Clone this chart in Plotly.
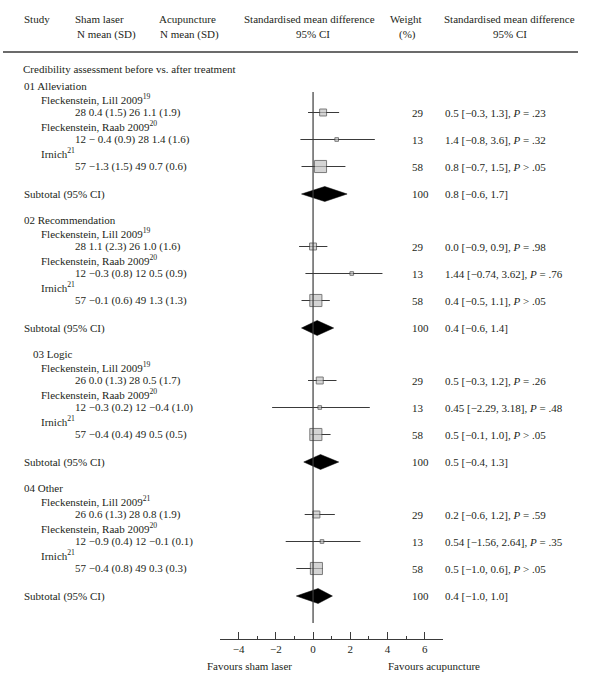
import plotly.graph_objects as go

# ---------------- data ----------------
groups = ["01 Alleviation", "02 Recommendation", "03 Logic", "04 Other"]
group_indent = [0, 0, 1, 0]
studies = ["Fleckenstein, Lill 2009", "Fleckenstein, Raab 2009", "Irnich"]
refs = [["19", "20", "21"], ["19", "20", "21"], ["19", "20", "21"], ["21", "20", "21"]]
arm_text = [
    ["28 0.4 (1.5) 26 1.1 (1.9)", "12 \u2212 0.4 (0.9) 28 1.4 (1.6)", "57 \u22121.3 (1.5) 49 0.7 (0.6)"],
    ["28 1.1 (2.3) 26 1.0 (1.6)", "12 \u22120.3 (0.8) 12 0.5 (0.9)", "57 \u22120.1 (0.6) 49 1.3 (1.3)"],
    ["26 0.0 (1.3) 28 0.5 (1.7)", "12 \u22120.3 (0.2) 12 \u22120.4 (1.0)", "57 \u22120.4 (0.4) 49 0.5 (0.5)"],
    ["26 0.6 (1.3) 28 0.8 (1.9)", "12 \u22120.9 (0.4) 12 \u22120.1 (0.1)", "57 \u22120.4 (0.8) 49 0.3 (0.3)"],
]
weights = [29, 13, 58]
smd_text = [
    ["0.5 [\u22120.3, 1.3], <i>P</i> = .23", "1.4 [\u22120.8, 3.6], <i>P</i> = .32", "0.8 [\u22120.7, 1.5], <i>P</i> > .05"],
    ["0.0 [\u22120.9, 0.9], <i>P</i> = .98", "1.44 [\u22120.74, 3.62], <i>P</i> = .76", "0.4 [\u22120.5, 1.1], <i>P</i> > .05"],
    ["0.5 [\u22120.3, 1.2], <i>P</i> = .26", "0.45 [\u22122.29, 3.18], <i>P</i> = .48", "0.5 [\u22120.1, 1.0], <i>P</i> > .05"],
    ["0.2 [\u22120.6, 1.2], <i>P</i> = .59", "0.54 [\u22121.56, 2.64], <i>P</i> = .35", "0.5 [\u22121.0, 0.6], <i>P</i> > .05"],
]
sub_text = ["0.8 [\u22120.6, 1.7]", "0.4 [\u22120.6, 1.4]", "0.5 [\u22120.4, 1.3]", "0.4 [\u22121.0, 1.0]"]
sub_weight = 100

# plotted estimates as drawn
est = [[0.54, 1.27, 0.40], [0.00, 2.08, 0.15], [0.36, 0.36, 0.15], [0.18, 0.48, 0.18]]
lo = [[-0.27, -0.68, -0.62], [-0.75, -0.41, -0.62], [-0.27, -2.20, -0.14], [-0.45, -1.47, -0.90]]
hi = [[1.40, 3.32, 1.74], [0.77, 3.73, 0.90], [1.26, 3.05, 0.94], [1.17, 2.55, 0.50]]
sub_est = [0.63, 0.22, 0.40, 0.27]
sub_lo = [-0.62, -0.62, -0.50, -0.90]
sub_hi = [1.83, 1.11, 1.38, 1.04]

axis_ticks = [-4, -2, 0, 2, 4, 6]

# ---------------- layout constants ----------------
W, H = 600, 692
FONT = "Liberation Serif"
FS = 11
TXT = "#231f20"
LINE = "#3a3a3a"

def px(x):
    return x / W

fig = go.Figure()
ann = []

def text(x, y, s, anchor="left", size=FS):
    ann.append(dict(x=px(x), y=y, xref="paper", yref="y", text=s, showarrow=False,
                    xanchor=anchor, yanchor="middle", font=dict(family=FONT, size=size, color=TXT)))

# header
text(22, 19, "Study")
text(73, 19, "Sham laser")
text(75, 34, "N mean (SD)")
text(157, 19, "Acupuncture")
text(158, 34, "N mean (SD)")
text(309, 19, "Standardised mean difference", "center")
text(313, 34, "95% CI", "center")
text(406, 19, "Weight", "center")
text(407, 34, "(%)", "center")
text(509, 19, "Standardised mean difference", "center")
text(510, 34, "95% CI", "center")
text(21, 69, "Credibility assessment before vs. after treatment")

shapes = [dict(type="line", xref="paper", yref="y", x0=px(3), x1=px(578), y0=52, y1=52,
               line=dict(color=LINE, width=1.3))]

g_y = 86
ci_x, ci_y = [], []
mk_x, mk_y, mk_s = [], [], []
diamonds = []
for gi, g in enumerate(groups):
    text(22 + 9 * group_indent[gi], g_y, g)
    rows = []
    for si, s in enumerate(studies):
        dy = g_y + 26.5 + 27 * si
        rows.append(dy)
        text(39, dy - 13.5, f"{s}<sup>{refs[gi][si]}</sup>")
        text(73, dy, arm_text[gi][si])
        text(410, dy, str(weights[si]))
        text(443, dy, smd_text[gi][si])
        ci_x += [lo[gi][si], hi[gi][si], None]
        ci_y += [dy, dy, None]
        mk_x.append(est[gi][si])
        mk_y.append(dy)
        mk_s.append(0.47 * weights[si] ** 0.8)
    sy = rows[-1] + 27.5
    text(22, sy, "Subtotal (95% CI)")
    text(410, sy, str(sub_weight))
    text(443, sy, sub_text[gi])
    diamonds.append((sub_lo[gi], sub_est[gi], sub_hi[gi], sy))
    g_y = sy + 26

# zero line
shapes.append(dict(type="line", xref="x", yref="y", x0=0, x1=0, y0=92, y1=623,
                   line=dict(color=LINE, width=1.2)))

fig.add_trace(go.Scatter(x=ci_x, y=ci_y, mode="lines", line=dict(color=LINE, width=1),
                         hoverinfo="skip", cliponaxis=False))
fig.add_trace(go.Scatter(x=mk_x, y=mk_y, mode="markers", cliponaxis=False, hoverinfo="skip",
                         marker=dict(symbol="square", size=mk_s, color="#c2c2c2",
                                     line=dict(color="#444444", width=1))))
for (a, m, b, y) in diamonds:
    fig.add_trace(go.Scatter(x=[a, m, b, m, a], y=[y, y - 7.5, y, y + 7.5, y], mode="lines",
                             fill="toself", fillcolor="#000000", line=dict(color="#000000", width=0.5),
                             hoverinfo="skip", cliponaxis=False))

text(205, 666, "Favours sham laser")
text(386, 666, "Favours acupuncture")

fig.update_layout(
    width=W, height=H, margin=dict(l=0, r=0, t=0, b=0),
    paper_bgcolor="white", plot_bgcolor="white", showlegend=False,
    annotations=ann, shapes=shapes, hovermode=False,
    xaxis=dict(domain=[220 / W, 443.33 / W], range=[-5.001, 7.001], anchor="free",
               position=1 - 639 / H, showline=True, linecolor=LINE, linewidth=1.2,
               ticks="inside", ticklen=7, tickwidth=1, tickcolor=LINE,
               tickvals=axis_ticks, ticktext=[f"\u2212{abs(t)}" if t < 0 else str(t) for t in axis_ticks],
               minor=dict(dtick=1, tick0=-5, ticks="inside", ticklen=3, tickcolor=LINE, showgrid=False),
               showgrid=False, zeroline=False, fixedrange=True,
               tickfont=dict(family=FONT, size=FS, color=TXT)),
    yaxis=dict(domain=[0, 1], range=[H, 0], visible=False, showgrid=False, zeroline=False,
               fixedrange=True),
)

fig.write_html("out.html", config={"displayModeBar": False, "staticPlot": True},
               post_script="document.body.style.margin='0px';document.body.style.overflow='hidden';")
